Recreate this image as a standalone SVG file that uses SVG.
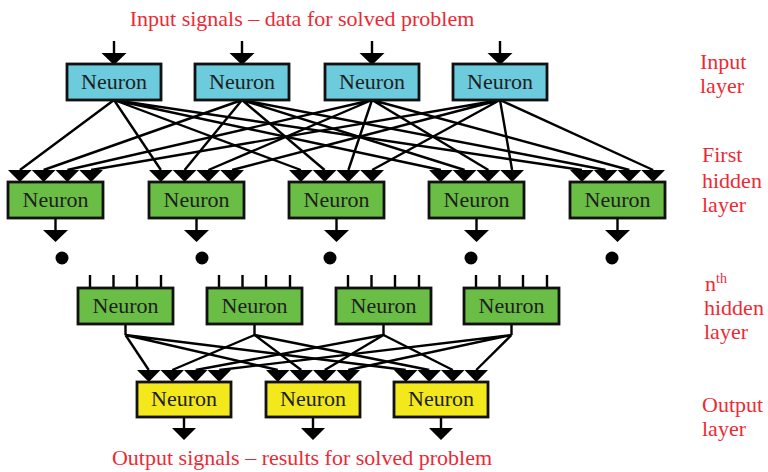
<svg xmlns="http://www.w3.org/2000/svg" width="768" height="472" viewBox="0 0 768 472">
<style>
.box{stroke:#111;stroke-width:2.8}
.in{fill:#6ccbdc}
.hid{fill:#6abd45}
.out{fill:#f2e81c}
.t{font-family:"Liberation Serif",serif;font-size:22px;fill:#1e1e1e;text-anchor:middle}
.lbl{font-family:"Liberation Serif",serif;font-size:22px;fill:#ec2a34}
.ln{stroke:#000;stroke-width:2.4;fill:none}
.tri{fill:#000}
</style>
<rect width="768" height="472" fill="#fff"/>
<text class="lbl" x="302" y="26" text-anchor="middle">Input signals – data for solved problem</text>
<text class="lbl" x="302" y="465" text-anchor="middle">Output signals – results for solved problem</text>
<g id="layer-labels">
<text class="lbl" x="700" y="69">Input</text>
<text class="lbl" x="700" y="93">layer</text>
<text class="lbl" x="702" y="162">First</text>
<text class="lbl" x="702" y="188">hidden</text>
<text class="lbl" x="702" y="212">layer</text>
<text class="lbl" x="705" y="291">n<tspan font-size="14" dy="-8">th</tspan></text>
<text class="lbl" x="704" y="315">hidden</text>
<text class="lbl" x="704" y="339">layer</text>
<text class="lbl" x="702" y="412">Output</text>
<text class="lbl" x="702" y="436">layer</text>
</g>
<g id="connectors">
<path class="ln" d="M114,41V54M242,41V54M372,41V54M500,41V54"/>
<path class="tri" d="M101.5,53h25l-12.5,12zM229.5,53h25l-12.5,12zM359.5,53h25l-12.5,12zM487.5,53h25l-12.5,12z"/>
<path class="ln" d="M114,100L19.9,170M114,100L160.9,170M114,100L300.9,170M114,100L440.9,170M114,100L581.9,170"/>
<path class="ln" d="M242,100L43.6,170M242,100L184.6,170M242,100L324.6,170M242,100L464.6,170M242,100L605.6,170"/>
<path class="ln" d="M372,100L67.4,170M372,100L208.4,170M372,100L348.4,170M372,100L488.4,170M372,100L629.4,170"/>
<path class="ln" d="M500,100L91.1,170M500,100L232.1,170M500,100L372.1,170M500,100L512.1,170M500,100L653.1,170"/>
<path class="ln" d="M55.5,218V231M196.5,218V231M336.5,218V231M476.5,218V231M617.5,218V231"/>
<path class="tri" d="M43,230h25l-12.5,12zM184,230h25l-12.5,12zM324,230h25l-12.5,12zM464,230h25l-12.5,12zM605,230h25l-12.5,12z"/>
<path class="ln" d="M90,275V288M113.5,275V288M137,275V288M161,275V288M219,275V288M242.5,275V288M266,275V288M290,275V288M348,275V288M371.5,275V288M395,275V288M419,275V288M476,275V288M499.5,275V288M523,275V288M547,275V288"/>
<path class="ln" d="M125.5,324V335M254.5,324V335M383.5,324V335M511.5,324V335"/>
<path class="ln" d="M125.5,335L148.75,370M125.5,335L277.75,370M125.5,335L405.75,370"/>
<path class="ln" d="M254.5,335L172.25,370M254.5,335L301.25,370M254.5,335L429.25,370"/>
<path class="ln" d="M383.5,335L195.75,370M383.5,335L324.75,370M383.5,335L452.75,370"/>
<path class="ln" d="M511.5,335L219.25,370M511.5,335L348.25,370M511.5,335L476.25,370"/>
<path class="ln" d="M184,417V429M313,417V429M441,417V429"/>
<path class="tri" d="M172,428h24l-12,12zM301,428h24l-12,12zM429,428h24l-12,12z"/>
</g>
<g id="dots">
<circle cx="62" cy="258" r="6.5"/>
<circle cx="202" cy="258" r="6.5"/>
<circle cx="330" cy="258" r="6.5"/>
<circle cx="471" cy="258" r="6.5"/>
<circle cx="612" cy="258" r="6.5"/>
</g>
<g id="input-neurons">
<g id="in1"><rect class="box in" x="67" y="64" width="94" height="36"/><text class="t" x="114" y="89">Neuron</text></g>
<g id="in2"><rect class="box in" x="195" y="64" width="94" height="36"/><text class="t" x="242" y="89">Neuron</text></g>
<g id="in3"><rect class="box in" x="325" y="64" width="94" height="36"/><text class="t" x="372" y="89">Neuron</text></g>
<g id="in4"><rect class="box in" x="453" y="64" width="94" height="36"/><text class="t" x="500" y="89">Neuron</text></g>
</g>
<g id="hidden1">
<g id="h1"><path class="tri" d="M8,170h95l-11.875,12l-11.875,-12l-11.875,12l-11.875,-12l-11.875,12l-11.875,-12l-11.875,12z"/><rect class="box hid" x="8" y="182" width="95" height="36"/><text class="t" x="55.5" y="207">Neuron</text></g>
<g id="h2"><path class="tri" d="M149,170h95l-11.875,12l-11.875,-12l-11.875,12l-11.875,-12l-11.875,12l-11.875,-12l-11.875,12z"/><rect class="box hid" x="149" y="182" width="95" height="36"/><text class="t" x="196.5" y="207">Neuron</text></g>
<g id="h3"><path class="tri" d="M289,170h95l-11.875,12l-11.875,-12l-11.875,12l-11.875,-12l-11.875,12l-11.875,-12l-11.875,12z"/><rect class="box hid" x="289" y="182" width="95" height="36"/><text class="t" x="336.5" y="207">Neuron</text></g>
<g id="h4"><path class="tri" d="M429,170h95l-11.875,12l-11.875,-12l-11.875,12l-11.875,-12l-11.875,12l-11.875,-12l-11.875,12z"/><rect class="box hid" x="429" y="182" width="95" height="36"/><text class="t" x="476.5" y="207">Neuron</text></g>
<g id="h5"><path class="tri" d="M570,170h95l-11.875,12l-11.875,-12l-11.875,12l-11.875,-12l-11.875,12l-11.875,-12l-11.875,12z"/><rect class="box hid" x="570" y="182" width="95" height="36"/><text class="t" x="617.5" y="207">Neuron</text></g>
</g>
<g id="hiddenN">
<g id="n1"><rect class="box hid" x="78" y="288" width="95" height="36"/><text class="t" x="125.5" y="313">Neuron</text></g>
<g id="n2"><rect class="box hid" x="207" y="288" width="95" height="36"/><text class="t" x="254.5" y="313">Neuron</text></g>
<g id="n3"><rect class="box hid" x="336" y="288" width="95" height="36"/><text class="t" x="383.5" y="313">Neuron</text></g>
<g id="n4"><rect class="box hid" x="464" y="288" width="95" height="36"/><text class="t" x="511.5" y="313">Neuron</text></g>
</g>
<g id="output-neurons">
<g id="o1"><path class="tri" d="M137,370h94l-11.75,12l-11.75,-12l-11.75,12l-11.75,-12l-11.75,12l-11.75,-12l-11.75,12z"/><rect class="box out" x="137" y="382" width="94" height="35"/><text class="t" x="184" y="406">Neuron</text></g>
<g id="o2"><path class="tri" d="M266,370h94l-11.75,12l-11.75,-12l-11.75,12l-11.75,-12l-11.75,12l-11.75,-12l-11.75,12z"/><rect class="box out" x="266" y="382" width="94" height="35"/><text class="t" x="313" y="406">Neuron</text></g>
<g id="o3"><path class="tri" d="M394,370h94l-11.75,12l-11.75,-12l-11.75,12l-11.75,-12l-11.75,12l-11.75,-12l-11.75,12z"/><rect class="box out" x="394" y="382" width="94" height="35"/><text class="t" x="441" y="406">Neuron</text></g>
</g>
</svg>
